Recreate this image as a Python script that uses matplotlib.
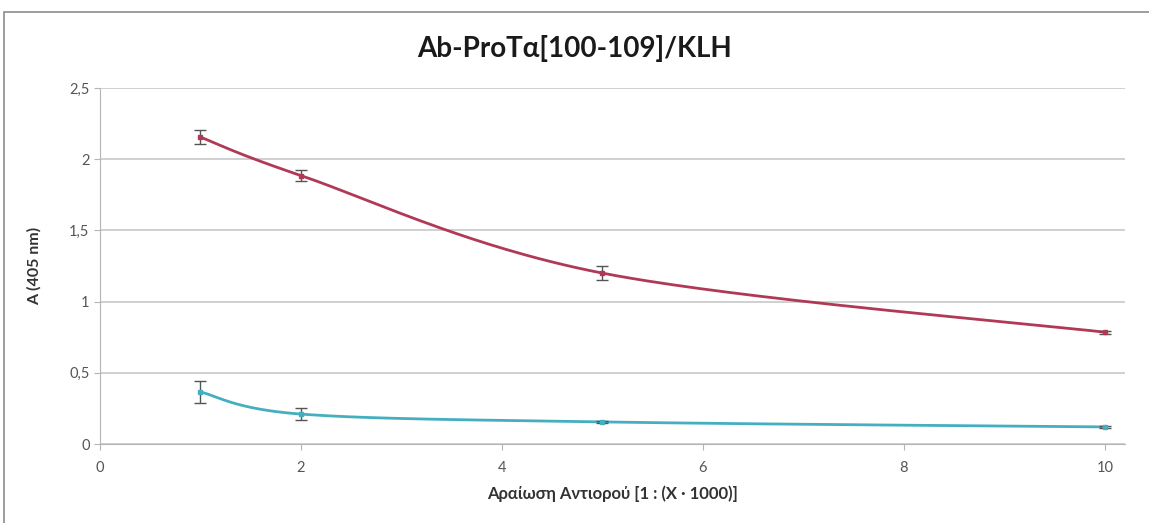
import numpy as np
import matplotlib.pyplot as plt
from matplotlib.patches import Rectangle

# Diluizioni (x 1000) e assorbanze misurate
diluizioni = [1, 2, 5, 10]
a_klh = [2.155, 1.885, 1.20, 0.785]
err_klh = [0.05, 0.04, 0.05, 0.012]
a_ctrl = [0.365, 0.21, 0.155, 0.12]
err_ctrl = [0.08, 0.04, 0.01, 0.008]

rosso = '#B03A55'
ciano = '#45AFC0'


def curva_liscia(x, y, n=60):
    # Spline cardinale (tipo "linee smussate" di Excel) passante per i punti
    x = np.asarray(x, float)
    y = np.asarray(y, float)
    px, py = [], []
    for i in range(len(x) - 1):
        x0, y0 = (x[i - 1], y[i - 1]) if i > 0 else (x[i], y[i])
        x3, y3 = (x[i + 2], y[i + 2]) if i + 2 < len(x) else (x[i + 1], y[i + 1])
        x1, y1, x2, y2 = x[i], y[i], x[i + 1], y[i + 1]
        c1 = (x1 + (x2 - x0) / 6, y1 + (y2 - y0) / 6)
        c2 = (x2 - (x3 - x1) / 6, y2 - (y3 - y1) / 6)
        t = np.linspace(0, 1, n)
        b = [(1 - t) ** 3, 3 * (1 - t) ** 2 * t, 3 * (1 - t) * t ** 2, t ** 3]
        px.append(b[0] * x1 + b[1] * c1[0] + b[2] * c2[0] + b[3] * x2)
        py.append(b[0] * y1 + b[1] * c1[1] + b[2] * c2[1] + b[3] * y2)
    return np.concatenate(px), np.concatenate(py)


plt.rcParams['font.family'] = ['Lato', 'DejaVu Sans']

fig = plt.figure(figsize=(11.49, 5.23), dpi=100)
fig.patches.append(Rectangle((4 / 1149, -0.05), 1.1, 1 - 12 / 523 + 0.05,
                             transform=fig.transFigure, fill=False,
                             edgecolor='#8c8c8c', linewidth=1.2))

ax = fig.add_axes([100 / 1149, 79 / 523, 1025 / 1149, 356 / 523])

for y, e, col in [(a_klh, err_klh, rosso), (a_ctrl, err_ctrl, ciano)]:
    xs, ys = curva_liscia(diluizioni, y)
    ax.plot(xs, ys, color=col, linewidth=2)
    ax.errorbar(diluizioni, y, yerr=e, fmt='s', color=col, markersize=3.5,
                ecolor='#555555', elinewidth=1, capsize=4, capthick=1)

ax.set_xlim(0, 10.2)
ax.set_ylim(0, 2.5)
ax.set_xticks([0, 2, 4, 6, 8, 10])
ax.set_yticks([0, 0.5, 1, 1.5, 2, 2.5])
ax.set_yticklabels(['0', '0,5', '1', '1,5', '2', '2,5'])
ax.grid(axis='y', color='#c8c8c8', linewidth=1.2)
ax.set_axisbelow(True)
for s in ['top', 'right']:
    ax.spines[s].set_visible(False)
for s in ['left', 'bottom']:
    ax.spines[s].set_color('#b5b5b5')
ax.tick_params(colors='#b5b5b5', labelcolor='#555555', labelsize=10.5, length=4)
ax.tick_params(axis='x', pad=8)

ax.set_xlabel('Αραίωση Αντιορού [1 : (X · 1000)]', fontsize=12,
              fontweight='bold', color='#333333', labelpad=8)
ax.set_ylabel('A (405 nm)', fontsize=11.5, fontweight='bold', color='#333333',
              labelpad=20)
fig.text(0.5, 1 - 48 / 523, 'Ab-ProTα[100-109]/KLH', ha='center', va='center',
         fontsize=20, fontweight='bold', color='#1a1a1a')

fig.savefig('out.png', dpi=100)
